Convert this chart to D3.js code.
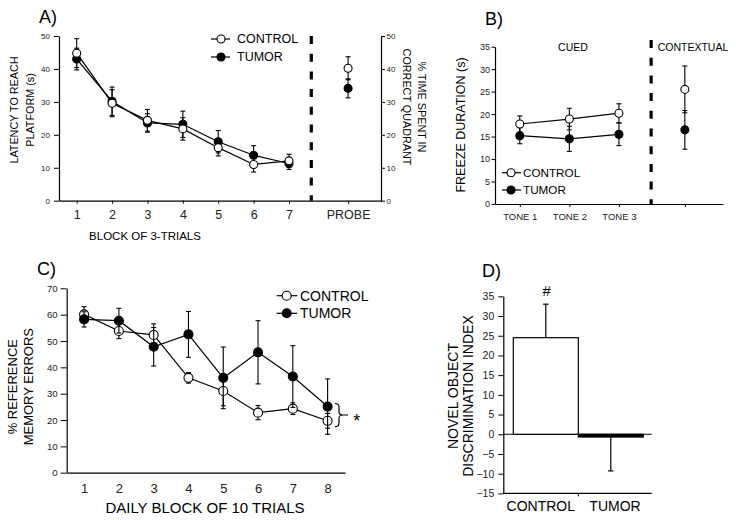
<!DOCTYPE html>
<html>
<head>
<meta charset="utf-8">
<script src="https://cdn.jsdelivr.net/npm/d3@7"></script>
<style>
  body { margin: 0; background: #fff; }
  svg { font-family: "Liberation Sans", Arial, Helvetica, sans-serif; }
</style>
</head>
<body>
<svg id="chart" width="736" height="520"></svg>
<script>
// ---- panel A : water maze latency ----
const blocksA = [1, 2, 3, 4, 5, 6, 7];
const ctrlA = [44.8, 29.6, 24.4, 21.8, 16.1, 11.0, 12.1];
const ctrlAErr = [4.4, 4.1, 3.3, 3.4, 2.5, 2.3, 2.0];
const tumA = [43.0, 30.2, 23.6, 23.2, 17.9, 13.8, 11.3];
const tumAErr = [3.3, 4.3, 2.8, 4.0, 3.4, 2.9, 1.8];
const probeMeans = [40.2, 34.1]; // control, tumor
const probeErr = [3.5, 2.9];

// ---- panel B : fear conditioning ----
const tonesB = ["TONE 1", "TONE 2", "TONE 3"];
const ctrlB = [17.8, 18.9, 20.2];
const ctrlBErr = [1.8, 2.4, 2.1];
const tumB = [15.2, 14.5, 15.5];
const tumBErr = [1.8, 2.8, 2.5];
const contextMeans = [25.5, 16.5]; // control, tumor
const contextErr = [5.2, 4.3];

// ---- panel C : radial arm maze ----
const blocksC = [1, 2, 3, 4, 5, 6, 7, 8];
const ctrlC = [60.1, 53.8, 52.3, 36.0, 31.0, 22.8, 24.3, 19.7];
const ctrlCErr = [2.9, 2.9, 4.2, 2.0, 5.6, 2.7, 2.2, 2.8];
const tumC = [58.2, 57.7, 47.8, 52.5, 36.0, 45.7, 36.5, 25.1];
const tumCErr = [2.9, 4.7, 7.3, 8.7, 11.7, 12.0, 11.7, 10.5];

// ---- panel D : novel object ----
const groupsD = ["CONTROL", "TUMOR"];
const discMeans = [24.5, -0.7];
const discErr = [8.5, 8.6];

const svg = d3.select("#chart");

function styleAxis(ax, size) {
  ax.select(".domain").attr("stroke", "#000").attr("stroke-width", 1.2);
  ax.selectAll(".tick line").attr("stroke", "#000").attr("stroke-width", 1);
  ax.selectAll(".tick text").attr("font-size", size).attr("fill", "#222").attr("font-family", null);
  ax.attr("font-family", null);
  return ax;
}

function drawSeries(g, pts, x, y, filled, r) {
  const cap = 2.5;
  const eb = g.append("g").attr("stroke", "#000").attr("stroke-width", 1.1);
  eb.selectAll(".v").data(pts).join("line").attr("class", "v")
    .attr("x1", d => x(d.x)).attr("x2", d => x(d.x))
    .attr("y1", d => y(d.v - d.e)).attr("y2", d => y(d.v + d.e));
  [1, -1].forEach(s => {
    eb.selectAll(".c" + (s > 0 ? "u" : "d")).data(pts).join("line").attr("class", "c" + (s > 0 ? "u" : "d"))
      .attr("x1", d => x(d.x) - cap).attr("x2", d => x(d.x) + cap)
      .attr("y1", d => y(d.v + s * d.e)).attr("y2", d => y(d.v + s * d.e));
  });
  if (pts.length > 1) {
    g.append("path").datum(pts)
      .attr("fill", "none").attr("stroke", "#000").attr("stroke-width", 1.2)
      .attr("d", d3.line().x(d => x(d.x)).y(d => y(d.v)));
  }
  g.selectAll(null).data(pts).join("circle")
    .attr("cx", d => x(d.x)).attr("cy", d => y(d.v)).attr("r", r)
    .attr("fill", filled ? "#000" : "#fff").attr("stroke", "#000").attr("stroke-width", 1.1);
}

function legend(g, x0, x1, cx, tx, ys, size, r) {
  ["CONTROL", "TUMOR"].forEach((name, i) => {
    g.append("line").attr("x1", x0).attr("x2", x1).attr("y1", ys[i]).attr("y2", ys[i])
      .attr("stroke", "#000").attr("stroke-width", 1.2);
    g.append("circle").attr("cx", cx).attr("cy", ys[i]).attr("r", r)
      .attr("fill", i ? "#000" : "#fff").attr("stroke", "#000").attr("stroke-width", 1.1);
    g.append("text").attr("x", tx).attr("y", ys[i]).attr("dy", "0.35em")
      .attr("font-size", size).text(name);
  });
}

function vLabel(g, lines, xs, yc, size, angle) {
  lines.forEach((t, i) => {
    g.append("text").attr("transform", `translate(${xs[i]},${yc}) rotate(${angle})`)
      .attr("text-anchor", "middle").attr("dy", "0.35em").attr("font-size", size).text(t);
  });
}

function dashed(g, x, y0, y1) {
  g.append("line").attr("x1", x).attr("x2", x).attr("y1", y0).attr("y2", y1)
    .attr("stroke", "#000").attr("stroke-width", 3.2).attr("stroke-dasharray", "8,9.7");
}

const zip = (xs, vs, es) => xs.map((x, i) => ({ x: x, v: vs[i], e: es[i] }));

// ================= A =================
{
  const g = svg.append("g");
  const PROBE_X = 8.67, DIV_X = 7.63;
  const x = d3.scaleLinear().domain([0.5, 9.6]).range([59, 381]);
  const y = d3.scaleLinear().domain([0, 50]).range([200.7, 36]);

  styleAxis(g.append("g").attr("transform", "translate(59,0)")
    .call(d3.axisLeft(y).tickValues(d3.range(0, 51, 10)).tickSize(5).tickPadding(4).tickSizeOuter(0)), 8);
  styleAxis(g.append("g").attr("transform", "translate(381,0)")
    .call(d3.axisRight(y).tickValues(d3.range(0, 51, 10)).tickSize(4).tickPadding(1.5).tickSizeOuter(0)), 8);
  styleAxis(g.append("g").attr("transform", "translate(0,200.7)")
    .call(d3.axisBottom(x).tickValues([...blocksA, PROBE_X]).tickSize(3).tickPadding(6.3).tickSizeOuter(0)
      .tickFormat(d => d === PROBE_X ? "PROBE" : d)), 12.5);

  dashed(g, x(DIV_X), 36, 200.7);

  drawSeries(g, zip(blocksA, tumA, tumAErr), x, y, true, 4);
  drawSeries(g, zip(blocksA, ctrlA, ctrlAErr), x, y, false, 4);
  drawSeries(g, [{ x: PROBE_X, v: probeMeans[1], e: probeErr[1] }], x, y, true, 4);
  drawSeries(g, [{ x: PROBE_X, v: probeMeans[0], e: probeErr[0] }], x, y, false, 4);

  legend(g, 211, 230, 221, 237, [39, 57], 12.5, 4);

  g.append("text").attr("x", 39).attr("y", 23).attr("font-size", 18).text("A)");
  vLabel(g, ["LATENCY TO REACH", "PLATFORM (s)"], [14.3, 30], 110, 10.8, -90);
  vLabel(g, ["% TIME SPENT IN", "CORRECT QUADRANT"], [422, 407], 107, 10.8, 90);
  g.append("text").attr("x", 145).attr("y", 236).attr("dy", "0.35em")
    .attr("text-anchor", "middle").attr("font-size", 11.5).text("BLOCK OF 3-TRIALS");
}

// ================= B =================
{
  const g = svg.append("g");
  const CONTEXT_X = 4.33, DIV_X = 3.65;
  const toneIdx = tonesB.map((_, i) => i + 1);
  const x = d3.scaleLinear().domain([0.5, 5.1]).range([495, 723]);
  const y = d3.scaleLinear().domain([0, 35]).range([204, 46.7]);

  styleAxis(g.append("g").attr("transform", "translate(495,0)")
    .call(d3.axisLeft(y).tickValues(d3.range(0, 36, 5)).tickSize(3.5).tickPadding(1.5).tickSizeOuter(0)), 9);
  styleAxis(g.append("g").attr("transform", "translate(0,204)")
    .call(d3.axisBottom(x).tickValues([...toneIdx, CONTEXT_X]).tickSize(3).tickPadding(6.3).tickSizeOuter(0)
      .tickFormat(d => d === CONTEXT_X ? "" : tonesB[d - 1])), 9.5);

  dashed(g, x(DIV_X), 40, 204);

  drawSeries(g, zip(toneIdx, tumB, tumBErr), x, y, true, 4);
  drawSeries(g, zip(toneIdx, ctrlB, ctrlBErr), x, y, false, 4);
  drawSeries(g, [{ x: CONTEXT_X, v: contextMeans[1], e: contextErr[1] }], x, y, true, 4);
  drawSeries(g, [{ x: CONTEXT_X, v: contextMeans[0], e: contextErr[0] }], x, y, false, 4);

  legend(g, 502, 521, 511, 523, [172.7, 190], 11.7, 4);

  g.append("text").attr("x", 573).attr("y", 47).attr("dy", "0.35em").attr("text-anchor", "middle")
    .attr("font-size", 10.5).text("CUED");
  g.append("text").attr("x", 693).attr("y", 47).attr("dy", "0.35em").attr("text-anchor", "middle")
    .attr("font-size", 10.5).text("CONTEXTUAL");
  g.append("text").attr("x", 485).attr("y", 25).attr("font-size", 18).text("B)");
  vLabel(g, ["FREEZE DURATION (s)"], [461], 125, 12.5, -90);
}

// ================= C =================
{
  const g = svg.append("g");
  const x = d3.scaleLinear().domain([0.5, 8.5]).range([66.7, 345]);
  const y = d3.scaleLinear().domain([0, 70]).range([472.7, 288.3]);

  styleAxis(g.append("g").attr("transform", "translate(66.7,0)")
    .call(d3.axisLeft(y).tickValues(d3.range(0, 71, 10)).tickSize(6).tickPadding(3).tickSizeOuter(0)), 9.6);
  styleAxis(g.append("g").attr("transform", "translate(0,472.7)")
    .call(d3.axisBottom(x).tickValues(blocksC).tickSize(0).tickPadding(10.6).tickSizeOuter(0)), 13);

  drawSeries(g, zip(blocksC, ctrlC, ctrlCErr), x, y, false, 4.5);
  drawSeries(g, zip(blocksC, tumC, tumCErr), x, y, true, 4.5);

  legend(g, 276.7, 297.3, 286.7, 300, [295.7, 313.3], 14, 4.5);

  // significance brace
  g.append("path")
    .attr("d", "M335,403.5 Q339,403.5 339,407 L339,412 Q339,415 343,415 Q339,415 339,418 L339,423 Q339,426.7 335,426.7 M343,415 H348")
    .attr("fill", "none").attr("stroke", "#000").attr("stroke-width", 1.2);
  g.append("text").attr("x", 356.7).attr("y", 427).attr("text-anchor", "middle")
    .attr("font-size", 18).text("*");

  g.append("text").attr("x", 37).attr("y", 275).attr("font-size", 18).text("C)");
  vLabel(g, ["% REFERENCE", "MEMORY ERRORS"], [12.5, 28], 386.7, 13, -90);
  g.append("text").attr("x", 205).attr("y", 507.3).attr("dy", "0.35em")
    .attr("text-anchor", "middle").attr("font-size", 15).text("DAILY BLOCK OF 10 TRIALS");
}

// ================= D =================
{
  const g = svg.append("g");
  const axisL = 503.3, axisR = 651.7;
  const x = d3.scaleBand().domain(groupsD).range([513.3, 643.3]);
  const y = d3.scaleLinear().domain([-15, 35]).range([493.4, 296.3]);
  const mid = x.range()[0] + x.bandwidth();

  // zero line
  g.append("line").attr("x1", axisL).attr("x2", axisR).attr("y1", y(0)).attr("y2", y(0))
    .attr("stroke", "#000").attr("stroke-width", 1);

  // error bars (one direction, away from zero)
  const cap = 2.7;
  groupsD.forEach((k, i) => {
    const cx = x(k) + x.bandwidth() / 2;
    const end = discMeans[i] + Math.sign(discMeans[i]) * discErr[i];
    g.append("line").attr("x1", cx).attr("x2", cx).attr("y1", y(discMeans[i])).attr("y2", y(end))
      .attr("stroke", "#000").attr("stroke-width", 1.2);
    g.append("line").attr("x1", cx - cap).attr("x2", cx + cap).attr("y1", y(end)).attr("y2", y(end))
      .attr("stroke", "#000").attr("stroke-width", 1.2);
  });

  g.selectAll(null).data(groupsD).join("rect")
    .attr("x", d => x(d)).attr("width", x.bandwidth())
    .attr("y", (d, i) => y(Math.max(0, discMeans[i])))
    .attr("height", (d, i) => Math.abs(y(discMeans[i]) - y(0)))
    .attr("fill", (d, i) => discMeans[i] < 0 ? "#000" : "#fff")
    .attr("stroke", "#000").attr("stroke-width", 1.2);

  styleAxis(g.append("g").attr("transform", `translate(${axisL},0)`)
    .call(d3.axisLeft(y).tickValues(d3.range(-15, 36, 5)).tickSize(5).tickPadding(4).tickSizeOuter(0)), 10.5);

  const xa = g.append("g").attr("transform", `translate(0,${y(-15)})`);
  xa.append("line").attr("x1", axisL).attr("x2", axisR).attr("stroke", "#000").attr("stroke-width", 1.2);
  xa.append("line").attr("x1", mid).attr("x2", mid).attr("y1", 0).attr("y2", 3).attr("stroke", "#000");
  const labelX = [(axisL + mid) / 2, (mid + axisR) / 2];
  xa.selectAll(null).data(groupsD).join("text")
    .attr("x", (d, i) => labelX[i]).attr("y", 12.3).attr("dy", "0.35em")
    .attr("text-anchor", "middle").attr("font-size", 14).text(d => d);

  g.append("text").attr("x", 546.7).attr("y", 290.7).attr("dy", "0.35em").attr("text-anchor", "middle")
    .attr("font-size", 15).text("#");
  g.append("text").attr("x", 482).attr("y", 277).attr("font-size", 18).text("D)");
  vLabel(g, ["NOVEL OBJECT", "DISCRIMINATION INDEX"], [453, 468], 396, 14, -90);
}
</script>
</body>
</html>
